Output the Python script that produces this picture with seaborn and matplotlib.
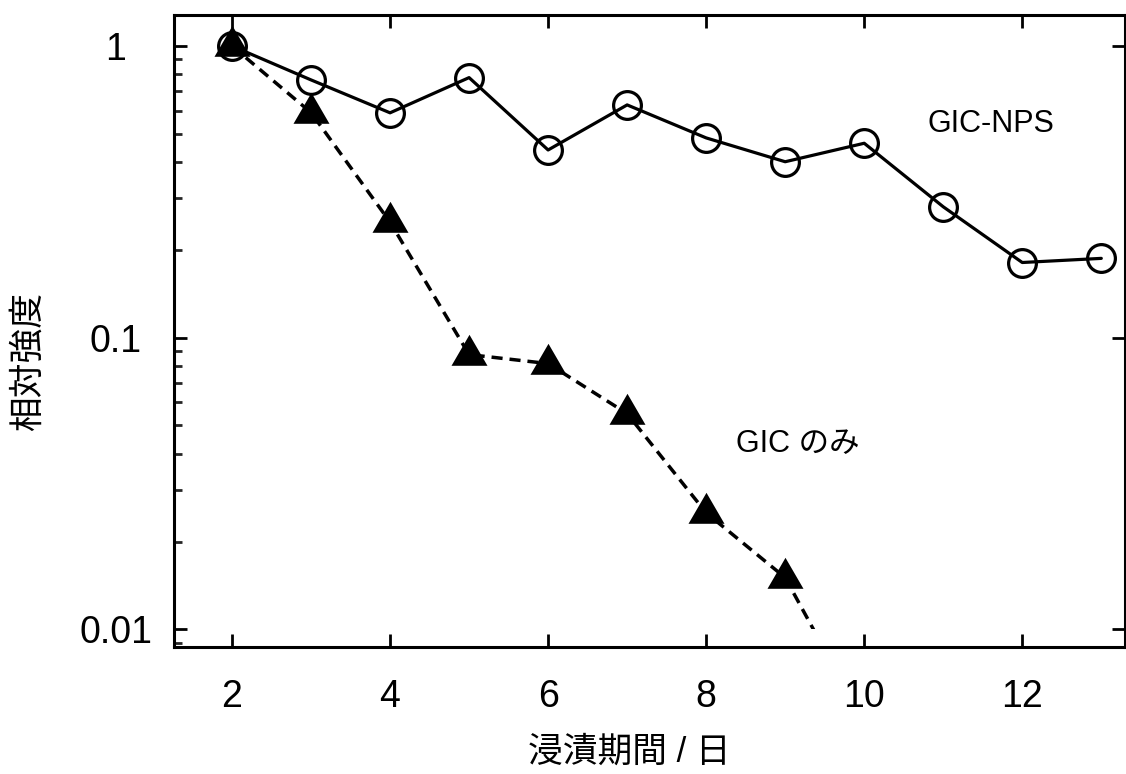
import matplotlib
matplotlib.use("Agg")
import matplotlib.pyplot as plt
import matplotlib.ticker as mticker
from matplotlib.patches import Rectangle
import seaborn as sns
import pandas as pd

# ---- data ----
days_nps = [2, 3, 4, 5, 6, 7, 8, 9, 10, 11, 12, 13]
gic_nps = [1.0, 0.765, 0.59, 0.779, 0.44, 0.628, 0.484, 0.401, 0.464, 0.281, 0.181, 0.187]
days_gic = [2, 3, 4, 5, 6, 7, 8, 9, 10]
gic_only = [1.0, 0.591, 0.249, 0.0875, 0.0815, 0.0549, 0.0251, 0.01504, 0.0048]
x_ticks = [2, 4, 6, 8, 10, 12]
y_ticks = [0.01, 0.1, 1]
y_tick_labels = ["0.01", "0.1", "1"]
label_nps = "GIC-NPS"
label_gic = "GIC のみ"
x_label = "浸漬期間 / 日"
y_label = "相対強度"

sns.set_theme(style="ticks")
plt.rcParams["font.family"] = ["Liberation Sans", "Noto Sans CJK JP", "DejaVu Sans"]

fig = plt.figure(figsize=(11.26, 7.74), dpi=100)
ax = fig.add_axes([174 / 1126, 1 - 647 / 774, 951 / 1126, 632 / 774])

df_nps = pd.DataFrame({"day": days_nps, "val": gic_nps})
df_gic = pd.DataFrame({"day": days_gic, "val": gic_only})

tri = [(0, 20.7), (-18, -10.3), (18, -10.3)]

sns.lineplot(data=df_nps, x="day", y="val", ax=ax, color="black", linewidth=2.3,
             marker="o", markersize=20, markerfacecolor="none",
             markeredgecolor="black", markeredgewidth=2.3, zorder=3)
sns.lineplot(data=df_gic, x="day", y="val", ax=ax, color="black", linewidth=2.5,
             linestyle=(0, (3.2, 2.0)), marker=tri, markersize=29.8,
             markerfacecolor="black", markeredgewidth=0, zorder=4)

ax.set_yscale("log")
ax.set_xlim(1.266, 13.30)
ax.set_ylim(0.0087, 1.277)

# clip dashed line at 0.01
gic_line = ax.lines[-1]
clip = Rectangle((1.266, 0.01), 13.30 - 1.266, 1.277 - 0.01,
                 transform=ax.transData, facecolor="none", edgecolor="none")
ax.add_patch(clip)
gic_line.set_clip_path(clip)

ax.set_xticks(x_ticks)
ax.set_xticklabels([str(t) for t in x_ticks])
ax.set_yticks(y_ticks)
ax.set_yticklabels(y_tick_labels, ha="center")
ax.yaxis.set_minor_locator(mticker.LogLocator(base=10, subs=range(2, 10)))
ax.yaxis.set_minor_formatter(mticker.NullFormatter())
ax.xaxis.set_minor_locator(mticker.NullLocator())

ax.tick_params(axis="both", which="major", direction="in", length=9.5, width=2,
               colors="black", labelsize=27, top=True, right=True)
ax.tick_params(axis="y", which="major", pad=42)
ax.tick_params(axis="x", which="major", pad=23)
ax.tick_params(axis="y", which="minor", direction="in", length=5.8, width=2,
               left=True, right=False)

for s in ax.spines.values():
    s.set_visible(True)
    s.set_linewidth(2.2)
    s.set_color("black")

ax.text(11.6, 0.54, label_nps, fontsize=22, ha="center", va="center", color="black")
ax.text(9.16, 0.0432, label_gic, fontsize=22, ha="center", va="center", color="black")

ax.set_xlabel(x_label, fontsize=25, va="center", color="black")
ax.xaxis.set_label_coords(0.479, -0.166)
ax.set_ylabel(y_label, fontsize=25, va="center", color="black")
ax.yaxis.set_label_coords(-0.1535, 0.4525)

fig.savefig("out.png", dpi=100, facecolor="white")
